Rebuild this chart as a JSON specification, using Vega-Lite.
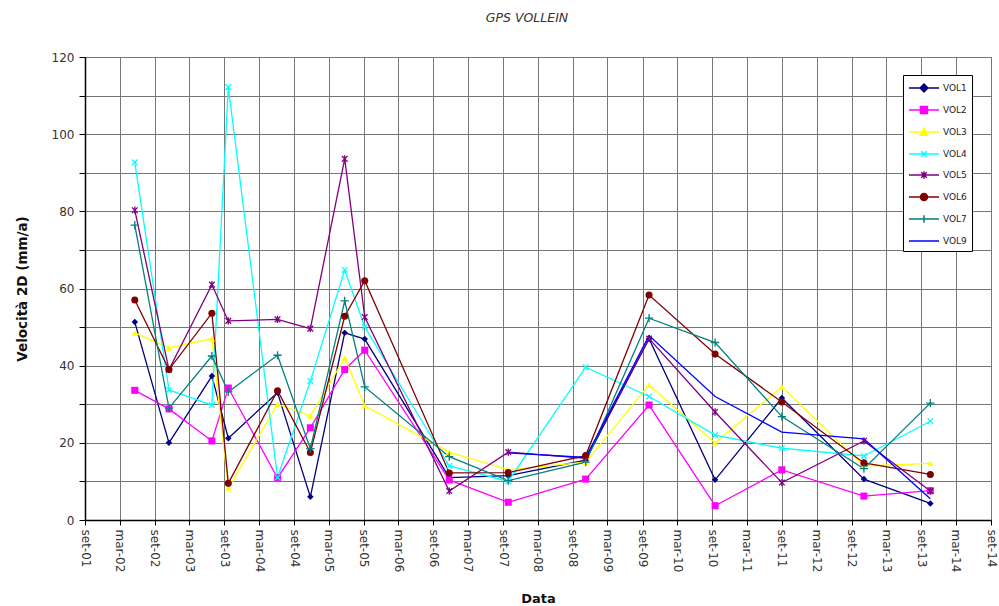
{
  "$schema": "https://vega.github.io/schema/vega-lite/v6.json",
  "width": 906,
  "height": 463,
  "autosize": {"type": "none"},
  "padding": {"left": 85, "top": 57, "right": 8, "bottom": 86},
  "background": "white",
  "title": {"text": "GPS VOLLEIN", "fontStyle": "italic", "fontSize": 12.5, "font": "DejaVu Sans", "fontWeight": "normal", "color": "#333", "offset": 27, "anchor": "middle", "dx": -11},
  "config": {
    "view": {"stroke": "#777"},
    "axis": {"labelFont": "DejaVu Sans", "titleFont": "DejaVu Sans", "labelFontSize": 12, "labelColor": "#333", "titleFontSize": 13, "titleColor": "#111", "gridColor": "#777", "gridOpacity": 1, "gridWidth": 1, "domainColor": "#000", "domainWidth": 1.5, "tickColor": "#000"}
  },
  "data": {"values": [
    {"s":"VOL1","d":"2002-05-20","v":51.3},{"s":"VOL1","d":"2002-11-15","v":20},{"s":"VOL1","d":"2003-06-28","v":37.3},{"s":"VOL1","d":"2003-09-22","v":21.2},{"s":"VOL1","d":"2004-06-06","v":33},{"s":"VOL1","d":"2004-11-25","v":6},{"s":"VOL1","d":"2005-05-24","v":48.5},{"s":"VOL1","d":"2005-09-06","v":46.9},{"s":"VOL1","d":"2006-11-23","v":11},{"s":"VOL1","d":"2007-09-28","v":11.5},{"s":"VOL1","d":"2008-11-07","v":15.5},{"s":"VOL1","d":"2009-10-05","v":47},{"s":"VOL1","d":"2010-09-16","v":10.4},{"s":"VOL1","d":"2011-09-01","v":31.6},{"s":"VOL1","d":"2012-11-04","v":10.6},{"s":"VOL1","d":"2013-10-18","v":4.3},
    {"s":"VOL2","d":"2002-05-20","v":33.6},{"s":"VOL2","d":"2002-11-15","v":28.8},{"s":"VOL2","d":"2003-06-28","v":20.5},{"s":"VOL2","d":"2003-09-22","v":34.2},{"s":"VOL2","d":"2004-06-06","v":10.9},{"s":"VOL2","d":"2004-11-25","v":23.9},{"s":"VOL2","d":"2005-05-24","v":39},{"s":"VOL2","d":"2005-09-06","v":44},{"s":"VOL2","d":"2006-11-23","v":10.4},{"s":"VOL2","d":"2007-09-28","v":4.6},{"s":"VOL2","d":"2008-11-07","v":10.6},{"s":"VOL2","d":"2009-10-05","v":29.8},{"s":"VOL2","d":"2010-09-16","v":3.7},{"s":"VOL2","d":"2011-09-01","v":13},{"s":"VOL2","d":"2012-11-04","v":6.2},{"s":"VOL2","d":"2013-10-18","v":7.6},
    {"s":"VOL3","d":"2002-05-20","v":48.5},{"s":"VOL3","d":"2002-11-15","v":44.6},{"s":"VOL3","d":"2003-06-28","v":47},{"s":"VOL3","d":"2003-09-22","v":8.3},{"s":"VOL3","d":"2004-06-06","v":30},{"s":"VOL3","d":"2004-11-25","v":27},{"s":"VOL3","d":"2005-05-24","v":42},{"s":"VOL3","d":"2005-09-06","v":29.6},{"s":"VOL3","d":"2006-11-23","v":17.6},{"s":"VOL3","d":"2007-09-28","v":13},{"s":"VOL3","d":"2008-11-07","v":15},{"s":"VOL3","d":"2009-10-05","v":35},{"s":"VOL3","d":"2010-09-16","v":20},{"s":"VOL3","d":"2011-09-01","v":34.5},{"s":"VOL3","d":"2012-11-04","v":14},{"s":"VOL3","d":"2013-10-18","v":14.7},
    {"s":"VOL4","d":"2002-05-20","v":92.7},{"s":"VOL4","d":"2002-11-15","v":33.7},{"s":"VOL4","d":"2003-06-28","v":29.8},{"s":"VOL4","d":"2003-09-22","v":112.2},{"s":"VOL4","d":"2004-06-06","v":11},{"s":"VOL4","d":"2004-11-25","v":36},{"s":"VOL4","d":"2005-05-24","v":64.8},{"s":"VOL4","d":"2005-09-06","v":50},{"s":"VOL4","d":"2006-11-23","v":14},{"s":"VOL4","d":"2007-09-28","v":10},{"s":"VOL4","d":"2008-11-07","v":39.6},{"s":"VOL4","d":"2009-10-05","v":32},{"s":"VOL4","d":"2010-09-16","v":22},{"s":"VOL4","d":"2011-09-01","v":18.6},{"s":"VOL4","d":"2012-11-04","v":16.6},{"s":"VOL4","d":"2013-10-18","v":25.6},
    {"s":"VOL5","d":"2002-05-20","v":80.3},{"s":"VOL5","d":"2002-11-15","v":39},{"s":"VOL5","d":"2003-06-28","v":61},{"s":"VOL5","d":"2003-09-22","v":51.6},{"s":"VOL5","d":"2004-06-06","v":52},{"s":"VOL5","d":"2004-11-25","v":49.6},{"s":"VOL5","d":"2005-05-24","v":93.6},{"s":"VOL5","d":"2005-09-06","v":52.6},{"s":"VOL5","d":"2006-11-23","v":7.5},{"s":"VOL5","d":"2007-09-28","v":17.6},{"s":"VOL5","d":"2008-11-07","v":16},{"s":"VOL5","d":"2009-10-05","v":47},{"s":"VOL5","d":"2010-09-16","v":28},{"s":"VOL5","d":"2011-09-01","v":9.7},{"s":"VOL5","d":"2012-11-04","v":20.5},{"s":"VOL5","d":"2013-10-18","v":7.5},
    {"s":"VOL6","d":"2002-05-20","v":57},{"s":"VOL6","d":"2002-11-15","v":39},{"s":"VOL6","d":"2003-06-28","v":53.6},{"s":"VOL6","d":"2003-09-22","v":9.5},{"s":"VOL6","d":"2004-06-06","v":33.5},{"s":"VOL6","d":"2004-11-25","v":17.5},{"s":"VOL6","d":"2005-05-24","v":52.8},{"s":"VOL6","d":"2005-09-06","v":62},{"s":"VOL6","d":"2006-11-23","v":12.2},{"s":"VOL6","d":"2007-09-28","v":12.3},{"s":"VOL6","d":"2008-11-07","v":16.7},{"s":"VOL6","d":"2009-10-05","v":58.3},{"s":"VOL6","d":"2010-09-16","v":43},{"s":"VOL6","d":"2011-09-01","v":30.6},{"s":"VOL6","d":"2012-11-04","v":14.8},{"s":"VOL6","d":"2013-10-18","v":11.8},
    {"s":"VOL7","d":"2002-05-20","v":76.4},{"s":"VOL7","d":"2002-11-15","v":29},{"s":"VOL7","d":"2003-06-28","v":42.5},{"s":"VOL7","d":"2003-09-22","v":33.2},{"s":"VOL7","d":"2004-06-06","v":42.7},{"s":"VOL7","d":"2004-11-25","v":18.5},{"s":"VOL7","d":"2005-05-24","v":56.8},{"s":"VOL7","d":"2005-09-06","v":34.5},{"s":"VOL7","d":"2006-11-23","v":16.4},{"s":"VOL7","d":"2007-09-28","v":10.2},{"s":"VOL7","d":"2008-11-07","v":15},{"s":"VOL7","d":"2009-10-05","v":52.3},{"s":"VOL7","d":"2010-09-16","v":46},{"s":"VOL7","d":"2011-09-01","v":26.8},{"s":"VOL7","d":"2012-11-04","v":13.3},{"s":"VOL7","d":"2013-10-18","v":30.3},
    {"s":"VOL9","d":"2007-09-28","v":17.4},{"s":"VOL9","d":"2008-11-07","v":16.2},{"s":"VOL9","d":"2009-10-05","v":47.8},{"s":"VOL9","d":"2010-09-16","v":32},{"s":"VOL9","d":"2011-09-01","v":22.8},{"s":"VOL9","d":"2012-11-04","v":21},{"s":"VOL9","d":"2013-10-18","v":5.5}
  ]},
  "encoding": {
    "x": {
      "field": "d", "type": "temporal",
      "scale": {"type": "utc", "domain": ["2001-09-01", "2014-09-01"]},
      "axis": {
        "values": ["2001-09-01","2002-03-01","2002-09-01","2003-03-01","2003-09-01","2004-03-01","2004-09-01","2005-03-01","2005-09-01","2006-03-01","2006-09-01","2007-03-01","2007-09-01","2008-03-01","2008-09-01","2009-03-01","2009-09-01","2010-03-01","2010-09-01","2011-03-01","2011-09-01","2012-03-01","2012-09-01","2013-03-01","2013-09-01","2014-03-01","2014-09-01"],
        "labelExpr": "(utcmonth(datum.value) == 2 ? 'mar' : 'set') + '-' + utcFormat(datum.value, '%y')",
        "labelAngle": 90, "labelOverlap": false, "labelPadding": 4, "tickSize": 5,
        "grid": true, "title": "Data", "titleFontWeight": "bold", "titlePadding": 21
      }
    },
    "y": {
      "field": "v", "type": "quantitative",
      "scale": {"domain": [0, 120], "nice": false},
      "axis": {
        "values": [0,10,20,30,40,50,60,70,80,90,100,110,120],
        "labelExpr": "datum.value % 20 == 0 ? datum.label : ''",
        "tickSize": 6, "labelPadding": 5, "grid": true,
        "title": "Velocità 2D (mm/a)", "titleFontWeight": "bold", "titlePadding": 22, "titleFontSize": 13.5
      }
    },
    "color": {
      "field": "s", "type": "nominal",
      "scale": {"domain": ["VOL1","VOL2","VOL3","VOL4","VOL5","VOL6","VOL7","VOL9"], "range": ["#000080","#FF00FF","#FFFF00","#00FFFF","#800080","#800000","#008080","#0000FF"]},
      "legend": {
        "orient": "none", "legendX": 818, "legendY": 18, "title": null,
        "strokeColor": "#000", "padding": 5, "fillColor": "white",
        "labelFont": "DejaVu Sans", "labelFontSize": 9, "labelColor": "#222",
        "symbolSize": 196, "rowPadding": 7, "labelOffset": 19, "symbolStrokeWidth": 1.5,
        "encode": {
          "symbols": {
            "update": {
              "shape": {"signal": "datum.value == 'VOL1' ? 'M-1,0L3.29,0M1.14,-0.55L1.69,0L1.14,0.55L0.59,0Z' : datum.value == 'VOL2' ? 'M-1,0L3.29,0M0.64,-0.5L1.64,-0.5L1.64,0.5L0.64,0.5Z' : datum.value == 'VOL3' ? 'M-1,0L3.29,0M1.14,-0.55L1.69,0.45L0.59,0.45Z' : datum.value == 'VOL4' ? 'M-1,0L3.29,0M0.74,-0.4L1.54,0.4M0.74,0.4L1.54,-0.4' : datum.value == 'VOL5' ? 'M-1,0L3.29,0M0.74,-0.4L1.54,0.4M0.74,0.4L1.54,-0.4M1.14,-0.55L1.14,0.55' : datum.value == 'VOL6' ? 'M-1,0L3.29,0M0.64,0A0.5,0.5 0 1,0 1.64,0A0.5,0.5 0 1,0 0.64,0Z' : datum.value == 'VOL7' ? 'M-1,0L3.29,0M1.14,-0.55L1.14,0.55' : 'M-1,0L3.29,0'"}
            }
          }
        }
      }
    }
  },
  "layer": [
    {"mark": {"type": "line", "strokeWidth": 1.3}},
    {"transform": [{"filter": "datum.s == 'VOL1'"}], "mark": {"type": "point", "shape": "diamond", "filled": true, "size": 42, "opacity": 1}},
    {"transform": [{"filter": "datum.s == 'VOL2'"}], "mark": {"type": "point", "shape": "square", "filled": true, "size": 50, "opacity": 1}},
    {"transform": [{"filter": "datum.s == 'VOL3'"}], "mark": {"type": "point", "shape": "triangle-up", "filled": true, "size": 42, "opacity": 1}},
    {"transform": [{"filter": "datum.s == 'VOL4'"}], "mark": {"type": "point", "shape": "M-1,-1L1,1M-1,1L1,-1", "filled": false, "strokeWidth": 1.3, "size": 32, "opacity": 1}},
    {"transform": [{"filter": "datum.s == 'VOL5'"}], "mark": {"type": "point", "shape": "M-1,-1L1,1M-1,1L1,-1M0,-1.3L0,1.3", "filled": false, "strokeWidth": 1.3, "size": 32, "opacity": 1}},
    {"transform": [{"filter": "datum.s == 'VOL6'"}], "mark": {"type": "point", "shape": "circle", "filled": true, "size": 50, "opacity": 1}},
    {"transform": [{"filter": "datum.s == 'VOL7'"}], "mark": {"type": "point", "shape": "M-1.3,0L1.3,0M0,-1.3L0,1.3", "filled": false, "strokeWidth": 1.3, "size": 40, "opacity": 1}}
  ]
}
